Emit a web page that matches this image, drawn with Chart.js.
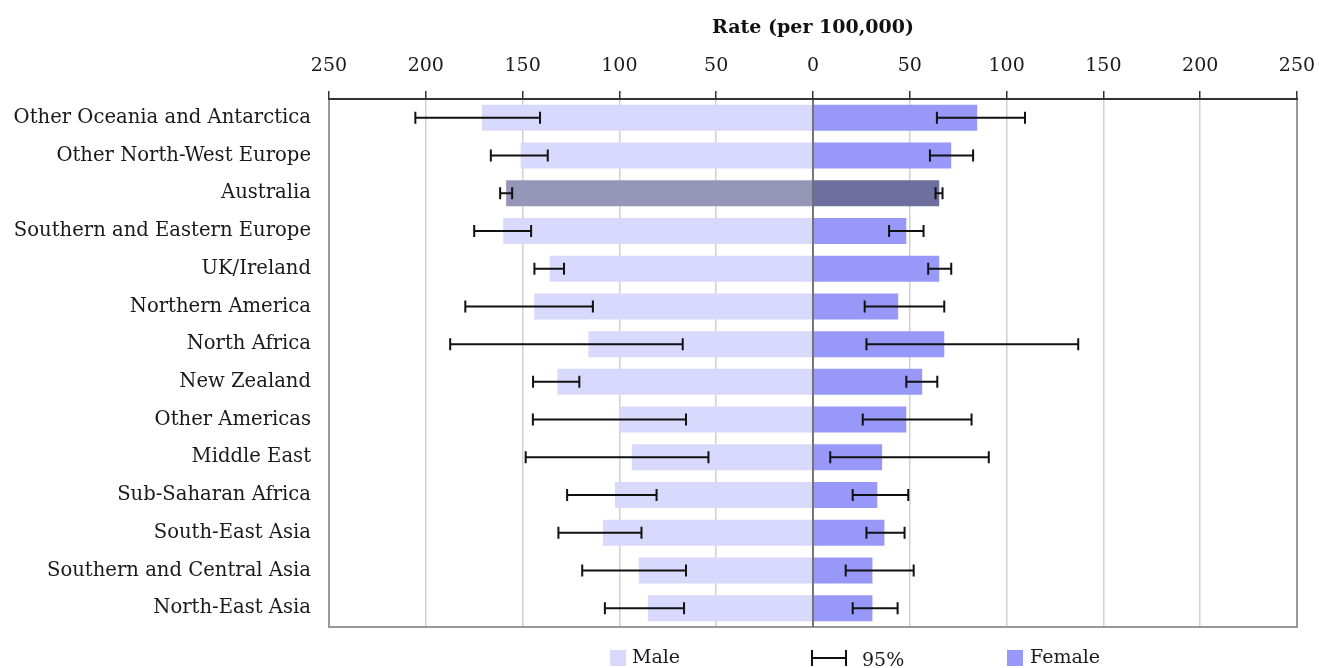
<!DOCTYPE html>
<html>
<head>
<meta charset="utf-8">
<script src="https://cdn.jsdelivr.net/npm/chart.js@4"></script>
<style>
  html, body { margin: 0; padding: 0; background: #fff; }
  #wrap { width: 1319px; height: 668px; }
</style>
</head>
<body>
<div id="wrap"><canvas id="rateChart" width="1319" height="668"></canvas></div>
<script>
const categories = [
    'Other Oceania and Antarctica', 'Other North-West Europe', 'Australia',
    'Southern and Eastern Europe', 'UK/Ireland', 'Northern America', 'North Africa',
    'New Zealand', 'Other Americas', 'Middle East', 'Sub-Saharan Africa',
    'South-East Asia', 'Southern and Central Asia', 'North-East Asia'
];
const maleRate   = [171, 151, 158.5, 160, 136, 144, 116, 132, 100, 93.6, 102.3, 108.5, 90, 85.3];
const maleLow    = [141, 137, 155.4, 145.6, 128.6, 113.7, 67.3, 120.7, 65.6, 54, 80.8, 88.6, 65.6, 66.6];
const maleHigh   = [205.4, 166.4, 161.6, 175, 143.9, 179.6, 187.4, 144.6, 144.7, 148.4, 127, 131.5, 119.2, 107.5];
const femaleRate = [84.8, 71.4, 65.2, 48.2, 65.2, 44, 67.8, 56.4, 48.2, 35.7, 33.2, 36.9, 30.7, 30.7];
const femaleLow  = [64, 60.4, 63.3, 39.3, 59.5, 26.7, 27.6, 48.2, 25.7, 8.9, 20.5, 27.6, 16.9, 20.5];
const femaleHigh = [109.5, 82.7, 66.9, 57.1, 71.4, 67.8, 137, 64.2, 81.9, 90.8, 49.2, 47.3, 52, 43.7];
const highlight = 'Australia';

const FONT = "'DejaVu Serif', serif";
const maleColor = '#d9d9fd';
const femaleColor = '#9898f8';
const maleHi = '#9696b9';
const femaleHi = '#6e6e9f';

// error bars drawn from the low/high arrays through the scales
const errorBars = {
    id: 'errorBars',
    afterDatasetsDraw(chart) {
        const ctx = chart.ctx;
        const xs = chart.scales.x, ys = chart.scales.y;
        ctx.save();
        ctx.strokeStyle = '#111';
        ctx.lineWidth = 2;
        const bar = (a, b, y) => {
            const x1 = xs.getPixelForValue(a), x2 = xs.getPixelForValue(b);
            ctx.beginPath();
            ctx.moveTo(x1, y); ctx.lineTo(x2, y);
            ctx.moveTo(x1, y - 6); ctx.lineTo(x1, y + 6);
            ctx.moveTo(x2, y - 6); ctx.lineTo(x2, y + 6);
            ctx.stroke();
        };
        categories.forEach((c, i) => {
            const y = ys.getPixelForValue(i);
            bar(-maleHigh[i], -maleLow[i], y);
            bar(femaleLow[i], femaleHigh[i], y);
        });
        ctx.restore();
    }
};

// frame + zero line + bottom legend
const frameLegend = {
    id: 'frameLegend',
    afterDraw(chart) {
        const ctx = chart.ctx;
        const a = chart.chartArea;
        const xs = chart.scales.x;
        ctx.save();
        ctx.strokeStyle = '#999';
        ctx.lineWidth = 2;
        ctx.beginPath();
        ctx.moveTo(a.left, a.top); ctx.lineTo(a.left, a.bottom);
        ctx.lineTo(a.right, a.bottom); ctx.lineTo(a.right, a.top);
        ctx.stroke();
        const x0 = xs.getPixelForValue(0);
        ctx.strokeStyle = '#555';
        ctx.lineWidth = 1.5;
        ctx.beginPath();
        ctx.moveTo(x0, a.top); ctx.lineTo(x0, a.bottom);
        ctx.stroke();
        ctx.strokeStyle = '#333';
        ctx.lineWidth = 2;
        ctx.beginPath();
        ctx.moveTo(a.left - 1, a.top); ctx.lineTo(a.right + 1, a.top);
        ctx.stroke();

        // legend
        const ly = 658;
        ctx.font = '19px ' + FONT;
        ctx.textBaseline = 'middle';
        ctx.fillStyle = maleColor;
        ctx.fillRect(610, ly - 8, 16, 16);
        ctx.fillStyle = '#1a1a1a';
        ctx.fillText('Male', 632, ly);
        ctx.strokeStyle = '#111';
        ctx.lineWidth = 2;
        ctx.beginPath();
        ctx.moveTo(812, ly - 8); ctx.lineTo(812, ly + 8);
        ctx.moveTo(812, ly); ctx.lineTo(846, ly);
        ctx.moveTo(846, ly - 8); ctx.lineTo(846, ly + 8);
        ctx.stroke();
        ctx.fillText('95%', 862, ly + 3);
        ctx.fillStyle = femaleColor;
        ctx.fillRect(1007, ly - 8, 16, 16);
        ctx.fillStyle = '#1a1a1a';
        ctx.fillText('Female', 1030, ly);
        ctx.restore();
    }
};

new Chart(document.getElementById('rateChart'), {
    type: 'bar',
    data: {
        labels: categories,
        datasets: [{
            label: 'Male',
            data: maleRate.map(v => -v),
            backgroundColor: categories.map(c => c === highlight ? maleHi : maleColor),
            barPercentage: 0.69,
            categoryPercentage: 1
        }, {
            label: 'Female',
            data: femaleRate,
            backgroundColor: categories.map(c => c === highlight ? femaleHi : femaleColor),
            barPercentage: 0.69,
            categoryPercentage: 1
        }]
    },
    options: {
        indexAxis: 'y',
        responsive: false,
        animation: false,
        layout: { padding: { left: 8, right: 22, top: 0, bottom: 41 } },
        plugins: {
            legend: { display: false },
            tooltip: { enabled: false }
        },
        scales: {
            x: {
                position: 'top',
                stacked: true,
                min: -250,
                max: 250,
                afterFit(scale) {
                    scale.height = 99;
                    scale.paddingLeft = 0;
                    scale.paddingRight = 0;
                },
                title: {
                    display: true,
                    text: 'Rate (per 100,000)',
                    color: '#111',
                    font: { family: FONT, size: 19, weight: 'bold' },
                    padding: { top: 17, bottom: 0 }
                },
                grid: {
                    color: '#d0d0d0',
                    lineWidth: 1.5,
                    tickColor: '#333',
                    tickLength: 8,
                    drawOnChartArea: true
                },
                border: { display: false },
                ticks: {
                    stepSize: 50,
                    color: '#1a1a1a',
                    padding: 14,
                    maxRotation: 0,
                    font: { family: FONT, size: 19 },
                    callback: v => Math.abs(v)
                }
            },
            y: {
                stacked: true,
                afterFit(scale) { scale.width = 321; },
                grid: { display: false },
                border: { display: false },
                ticks: {
                    color: '#1a1a1a',
                    padding: 10,
                    font: { family: FONT, size: 19.6 }
                }
            }
        }
    },
    plugins: [errorBars, frameLegend]
});
</script>
</body>
</html>
